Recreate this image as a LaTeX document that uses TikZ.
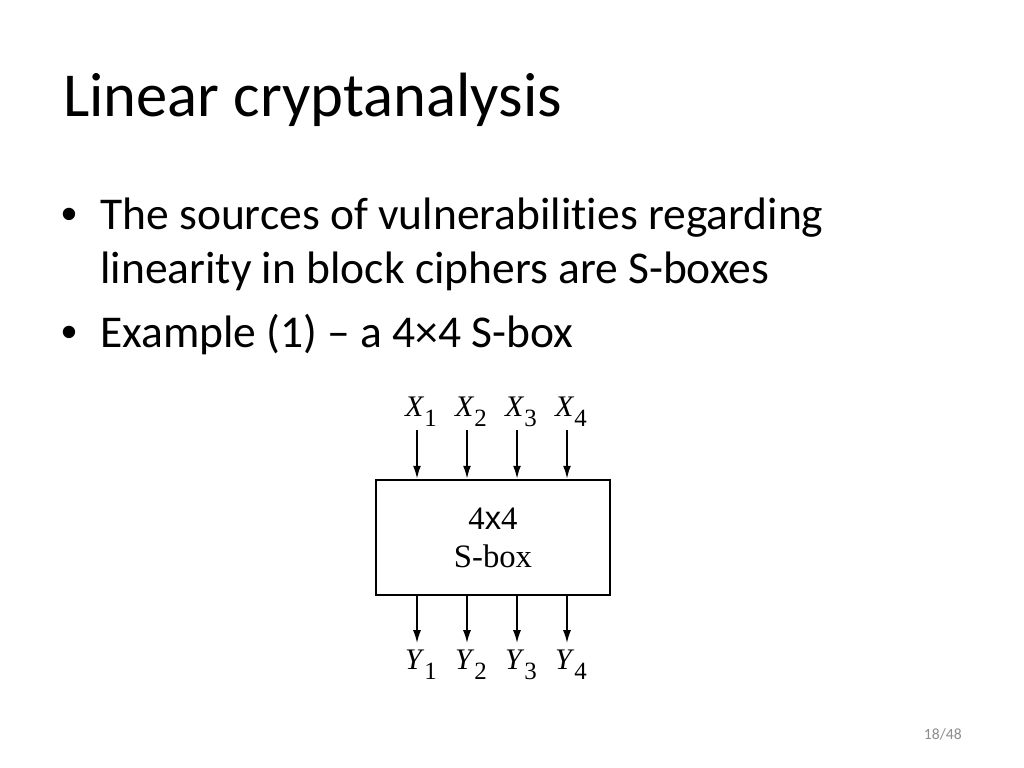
\documentclass[tikz,border=0pt]{standalone}
\usepackage{fontspec}
\setmainfont{Carlito}[Ligatures=CommonOff]
\newfontfamily\figfont{Liberation Serif}
\newfontfamily\figsans{Liberation Sans}
\usetikzlibrary{arrows.meta}
\newcommand{\pinlbl}[2]{\textit{#1}\raisebox{-7pt}{\fontsize{17.5}{20}\selectfont #2}}

\begin{document}
\begin{tikzpicture}[x=0.703125pt, y=-0.703125pt, >={Latex[length=9pt,width=5.6pt]},
  title/.style={anchor=base west, inner sep=0pt, font=\fontsize{44}{53}\selectfont},
  bullet/.style={anchor=base west, inner sep=0pt, font=\fontsize{32}{38}\selectfont},
  pin/.style={inner sep=1pt, font=\figfont\fontsize{21}{25}\selectfont},
  wire/.style={->, line width=1pt}]
  \useasboundingbox[fill=white] (0,0) rectangle (1024,768);
  \node[title] (ttl) at (63,117) {Linear cryptanalysis};
  % Bullets
  \node[bullet] (b1) at (61,230) {\figsans •};
  \node[bullet] (t1) at (100,230) {The sources of vulnerabilities regarding};
  \node[bullet] (t2) at (100,283) {linearity in block ciphers are S-boxes};
  \node[bullet] (b2) at (61,347) {\figsans •};
  \node[bullet] (t3) at (100,347) {Example (1) – a 4×4 S-box};
  % S-box
  \node[draw, line width=2pt, minimum width=164.5pt, minimum height=80.9pt,
    align=center, font=\figfont\fontsize{23}{26.7}\selectfont] (sbox) at (493,537.5)
    {4{\figsans x}4\\S-box};
  \foreach \i in {1,...,4} {
    \node[pin] (x\i) at (371+50*\i,412) {\pinlbl{X}{\i}};
    \node[pin] (y\i) at (371+50*\i,665) {\pinlbl{Y}{\i}};
    \coordinate (xi\i) at (367+50*\i,430);
    \coordinate (yo\i) at (367+50*\i,643);
    \draw[wire] (xi\i) -- (xi\i |- sbox.north);
    \draw[wire] (yo\i |- sbox.south) -- (yo\i);
  }
  \node[anchor=base east, inner sep=0pt, text=black!45, font=\fontsize{11}{13}\selectfont] (pg) at (962,739) {18/48};
\end{tikzpicture}
\end{document}
